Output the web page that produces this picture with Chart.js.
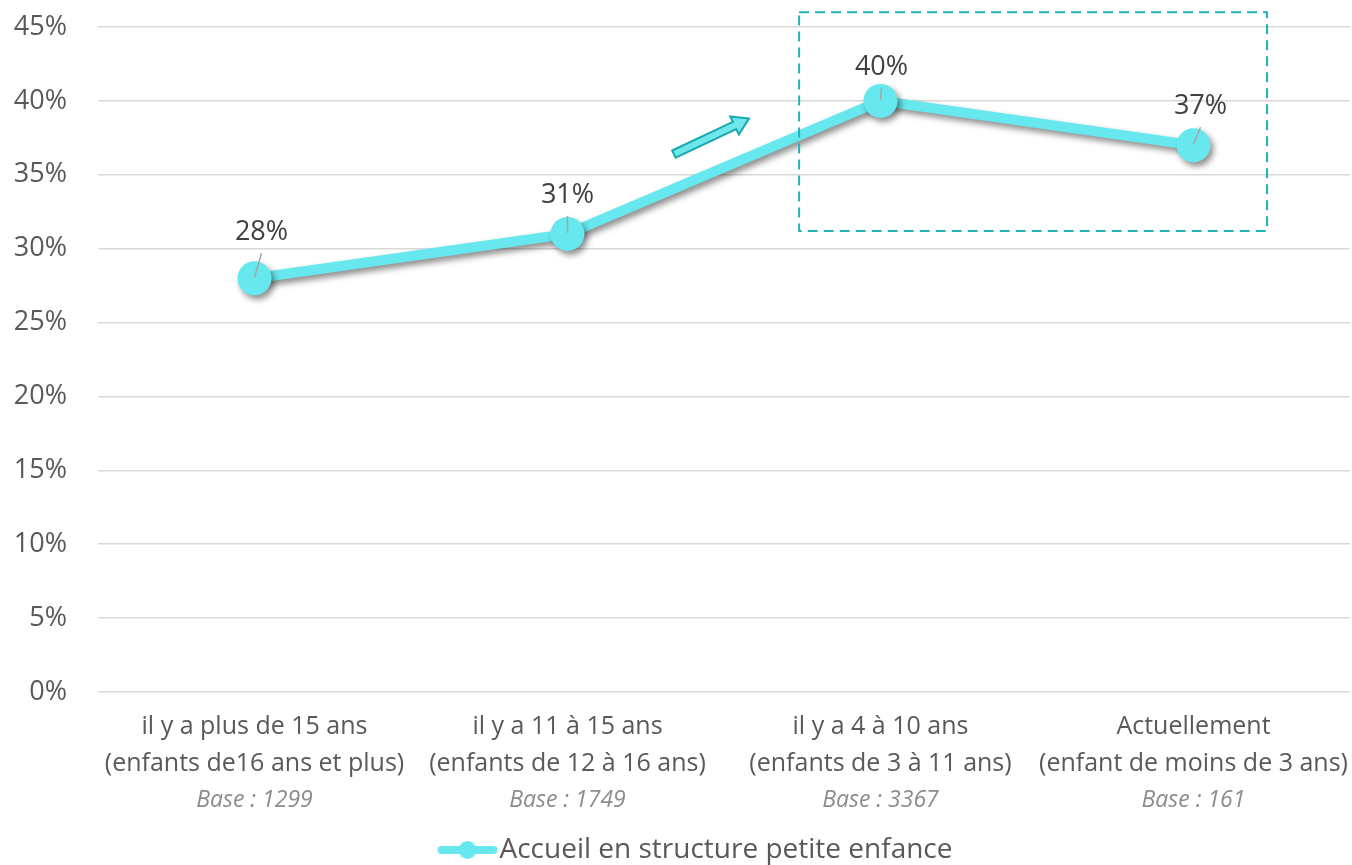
<!DOCTYPE html>
<html>
<head>
<meta charset="utf-8">
<script src="https://cdn.jsdelivr.net/npm/chart.js@4"></script>
<style>
  html, body { margin: 0; padding: 0; background: #fff; }
  #wrap { width: 1352px; height: 865px; position: relative; }
</style>
</head>
<body>
<div id="wrap"><canvas id="c" width="1352" height="865"></canvas></div>
<script>
const categoryLine1 = ["il y a plus de 15 ans", "il y a 11 à 15 ans", "il y a 4 à 10 ans", "Actuellement"];
const categoryLine2 = ["(enfants de16 ans et plus)", "(enfants de 12 à 16 ans)", "(enfants de 3 à 11 ans)", "(enfant de moins de 3 ans)"];
const baseLabels = ["Base : 1299", "Base : 1749", "Base : 3367", "Base : 161"];
const seriesName = "Accueil en structure petite enfance";
const seriesValues = [28, 31, 40, 37];
const yTicks = [0, 5, 10, 15, 20, 25, 30, 35, 40, 45];

// styling: manual nudges of the data labels (pixels, relative to each point)
const labelNudgeX = [7, 0, 1, 7];
const labelNudgeY = [-47, -40, -35, -40];

const FONT = "'Open Sans', 'Liberation Sans', sans-serif";
const LINE = "#67e8ee";
const TEAL = "#1fb3b9";

// legend symbol: line with point
const sym = document.createElement('canvas');
sym.width = 120; sym.height = 20;
(function(){
  const g = sym.getContext('2d');
  g.strokeStyle = LINE; g.lineWidth = 8; g.lineCap = 'round';
  g.beginPath(); g.moveTo(54, 10); g.lineTo(106, 10); g.stroke();
  g.fillStyle = LINE; g.beginPath(); g.arc(80, 10, 9, 0, Math.PI * 2); g.fill();
})();

const labels = categoryLine1.map((l, i) => [l, categoryLine2[i], ""]);

const shadowPlugin = {
  id: 'shadow',
  beforeDatasetsDraw(chart) {
    const ctx = chart.ctx;
    ctx.save();
    ctx.shadowColor = 'rgba(0,0,0,0.45)';
    ctx.shadowBlur = 6;
    ctx.shadowOffsetX = 3;
    ctx.shadowOffsetY = 4;
  },
  afterDatasetsDraw(chart) {
    chart.ctx.restore();
  }
};

const decorPlugin = {
  id: 'decor',
  afterDraw(chart) {
    const ctx = chart.ctx;
    const xs = chart.scales.x, ys = chart.scales.y;
    const meta = chart.getDatasetMeta(0);
    // data labels with leader lines
    ctx.save();
    ctx.font = "27px " + FONT;
    ctx.fillStyle = "#404040";
    ctx.textAlign = "center";
    ctx.textBaseline = "middle";
    meta.data.forEach((pt, i) => {
      const lx = pt.x + labelNudgeX[i], ly = pt.y + labelNudgeY[i];
      ctx.fillText(seriesValues[i] + "%", lx, ly + 1);
      ctx.strokeStyle = "#a6a6a6"; ctx.lineWidth = 1.5;
      ctx.beginPath(); ctx.moveTo(lx, ly + 22); ctx.lineTo(pt.x, pt.y - 1); ctx.stroke();
    });
    ctx.restore();

    // italic base labels
    ctx.save();
    ctx.font = "italic 23px " + FONT;
    ctx.fillStyle = "#8c8c8c";
    ctx.textAlign = "center";
    ctx.textBaseline = "middle";
    const baseY = ys.getPixelForValue(0);
    baseLabels.forEach((b, i) => {
      ctx.fillText(b, xs.getPixelForValue(i), baseY + 108);
    });
    ctx.restore();

    // dashed highlight box
    const step = xs.getPixelForValue(1) - xs.getPixelForValue(0);
    const bx1 = xs.getPixelForValue(2) - 0.26 * step;
    const bx2 = xs.getPixelForValue(3) + 0.235 * step;
    const by1 = ys.getPixelForValue(46);
    const by2 = ys.getPixelForValue(31.2);
    ctx.save();
    ctx.strokeStyle = TEAL; ctx.lineWidth = 2; ctx.setLineDash([10, 6]);
    ctx.strokeRect(bx1, by1, bx2 - bx1, by2 - by1);
    ctx.restore();

    // arrow
    const ax1 = xs.getPixelForValue(1) + 0.34 * step, ay1 = ys.getPixelForValue(36.4);
    const ax2 = xs.getPixelForValue(1) + 0.58 * step, ay2 = ys.getPixelForValue(38.8);
    const ang = Math.atan2(ay2 - ay1, ax2 - ax1);
    const len = Math.hypot(ax2 - ax1, ay2 - ay1);
    const sw = 4, hw = 10, hl = 16;
    ctx.save();
    ctx.translate(ax1, ay1); ctx.rotate(ang);
    ctx.beginPath();
    ctx.moveTo(0, -sw); ctx.lineTo(len - hl, -sw); ctx.lineTo(len - hl, -hw);
    ctx.lineTo(len, 0); ctx.lineTo(len - hl, hw); ctx.lineTo(len - hl, sw);
    ctx.lineTo(0, sw); ctx.closePath();
    ctx.fillStyle = "#6ee6ea"; ctx.fill();
    ctx.strokeStyle = "#17a9b0"; ctx.lineWidth = 2; ctx.lineJoin = 'miter'; ctx.stroke();
    ctx.restore();
  }
};

new Chart(document.getElementById('c'), {
  type: 'line',
  data: {
    labels: labels,
    datasets: [{
      label: seriesName,
      data: seriesValues,
      borderColor: LINE,
      backgroundColor: LINE,
      borderWidth: 10,
      pointRadius: 17,
      pointHoverRadius: 17,
      pointBackgroundColor: LINE,
      pointBorderWidth: 0,
      tension: 0,
      pointStyle: 'circle'
    }]
  },
  options: {
    responsive: false,
    animation: false,
    devicePixelRatio: 1,
    layout: { autoPadding: false, padding: { top: 27, right: 2, left: 12, bottom: -9 } },
    plugins: {
      tooltip: { enabled: false },
      legend: {
        position: 'bottom',
        labels: {
          usePointStyle: true,
          pointStyle: sym,
          pointStyleWidth: 76,
          boxHeight: 20,
          color: '#595959',
          font: { family: FONT, size: 28, lineHeight: 1 },
          padding: 1,
          generateLabels(chart) {
            return [{ text: seriesName, pointStyle: sym, fillStyle: LINE, strokeStyle: LINE, lineWidth: 0, hidden: false, datasetIndex: 0, fontColor: '#595959' }];
          }
        }
      }
    },
    scales: {
      x: {
        offset: true,
        grid: { display: false, drawTicks: false },
        border: { display: false },
        afterFit(scale) { scale.height = 143; scale.paddingLeft = 0; scale.paddingRight = 0; },
        ticks: {
          color: '#595959',
          font: { family: FONT, size: 25, lineHeight: 1.48 },
          padding: 16,
          maxRotation: 0,
          autoSkip: false
        }
      },
      y: {
        min: 0, max: 45,
        afterBuildTicks(axis) { axis.ticks = yTicks.map(v => ({ value: v })); },
        afterFit(scale) { scale.width = 86; scale.paddingTop = 0; scale.paddingBottom = 0; },
        grid: { color: '#d9d9d9', lineWidth: 1.5, drawTicks: false },
        border: { display: false },
        ticks: {
          color: '#595959',
          font: { family: FONT, size: 27 },
          padding: 31,
          callback: v => v + '%'
        }
      }
    }
  },
  plugins: [shadowPlugin, decorPlugin]
});
</script>
</body>
</html>
